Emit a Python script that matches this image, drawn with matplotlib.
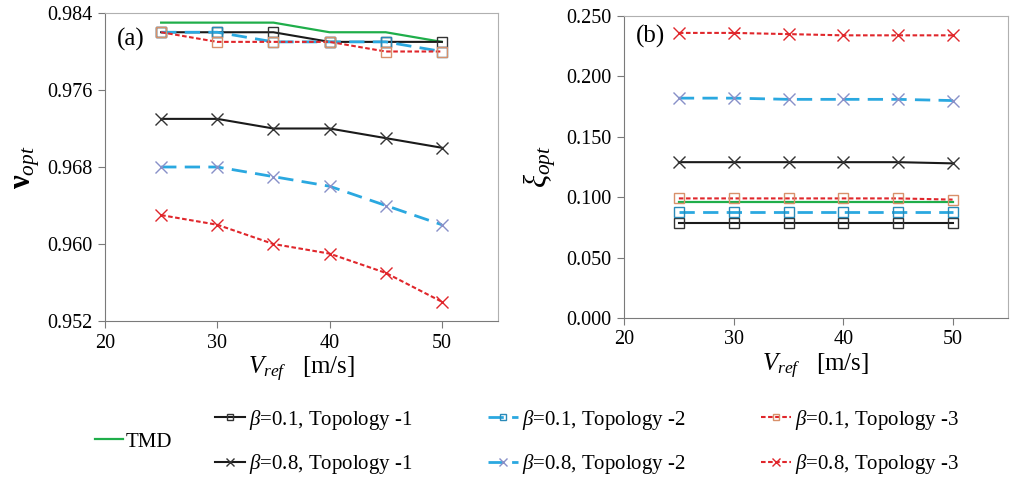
import matplotlib
matplotlib.use("Agg")
import matplotlib.pyplot as plt
from matplotlib.ticker import FixedLocator

plt.rcParams['font.family'] = ['Liberation Serif', 'DejaVu Serif']
plt.rcParams['mathtext.fontset'] = 'custom'
plt.rcParams['mathtext.rm'] = 'Liberation Serif'
plt.rcParams['mathtext.it'] = 'Liberation Serif:italic'
plt.rcParams['mathtext.bf'] = 'Liberation Serif:bold'

# wind speeds
vref = [25, 30, 35, 40, 45, 50]

# panel (a): optimal frequency ratio
nu_tmd = [0.983, 0.983, 0.983, 0.982, 0.982, 0.981]
nu_b01_t1 = [0.982, 0.982, 0.982, 0.981, 0.981, 0.981]
nu_b01_t2 = [0.982, 0.982, 0.981, 0.981, 0.981, 0.980]
nu_b01_t3 = [0.982, 0.981, 0.981, 0.981, 0.980, 0.980]
nu_b08_t1 = [0.973, 0.973, 0.972, 0.972, 0.971, 0.970]
nu_b08_t2 = [0.968, 0.968, 0.967, 0.966, 0.964, 0.962]
nu_b08_t3 = [0.963, 0.962, 0.960, 0.959, 0.957, 0.954]

# panel (b): optimal damping ratio
xi_tmd = [0.096, 0.096, 0.096, 0.096, 0.096, 0.096]
xi_b01_t1 = [0.079, 0.079, 0.079, 0.079, 0.079, 0.079]
xi_b01_t2 = [0.088, 0.088, 0.088, 0.088, 0.088, 0.088]
xi_b01_t3 = [0.099, 0.099, 0.099, 0.099, 0.099, 0.098]
xi_b08_t1 = [0.129, 0.129, 0.129, 0.129, 0.129, 0.128]
xi_b08_t2 = [0.182, 0.182, 0.181, 0.181, 0.181, 0.180]
xi_b08_t3 = [0.236, 0.236, 0.235, 0.234, 0.234, 0.234]

labels = [r'$\beta$=0.1, Topology -1', r'$\beta$=0.8, Topology -1',
          r'$\beta$=0.1, Topology -2', r'$\beta$=0.8, Topology -2',
          r'$\beta$=0.1, Topology -3', r'$\beta$=0.8, Topology -3']

BLACK = '#1a1a1a'
CYAN = '#2aa8e0'
RED = '#e0262b'
GREEN = '#1fae4a'

styles = [
    dict(color=BLACK, ls='-', lw=1.5, marker='s', mec='#333333'),
    dict(color=BLACK, ls='-', lw=1.5, marker='x', mec='#333333'),
    dict(color=CYAN, ls=(0, (5.5, 3)), lw=2.0, marker='s', mec='#2a8ab8'),
    dict(color=CYAN, ls=(0, (5.5, 3)), lw=2.0, marker='x', mec='#8890c8'),
    dict(color=RED, ls=(0, (2.2, 1.2)), lw=1.5, marker='s', mec='#d8906a'),
    dict(color=RED, ls=(0, (2.2, 1.2)), lw=1.5, marker='x', mec=RED),
]

TICKFONT = 14.5

fig = plt.figure(figsize=(10.1, 4.82), dpi=100)
ax1 = fig.add_axes([105 / 1010, 1 - 321 / 482, 393 / 1010, 308 / 482])
ax2 = fig.add_axes([624 / 1010, 1 - 318 / 482, 384 / 1010, 302 / 482])


def draw(ax, tmd, series):
    handles = []
    h_tmd, = ax.plot(vref, tmd, color=GREEN, lw=1.6, label='TMD')
    for ys, st, lab in zip(series, styles, labels):
        ms = 7 if st['marker'] == 's' else 8
        h, = ax.plot(vref, ys, color=st['color'], ls=st['ls'], lw=st['lw'],
                     marker=st['marker'], mfc='none', mec=st['mec'],
                     ms=ms, mew=1.0, label=lab)
        handles.append(h)
    ax.set_xlim(20, 55)
    ax.xaxis.set_major_locator(FixedLocator([20, 30, 40, 50]))
    for side in ['top', 'right']:
        ax.spines[side].set_color('#b0b0b0')
    for side in ['left', 'bottom']:
        ax.spines[side].set_color('#7a7a7a')
    ax.tick_params(direction='out', length=5, color='#7a7a7a',
                   labelsize=TICKFONT, pad=4)
    ax.set_xlabel(r'$V_{ref}$   [m/s]', fontsize=18, labelpad=2)
    return h_tmd, handles


# order in plotting: b01t1, b08t1, b01t2, b08t2, b01t3, b08t3
h_tmd, handles = draw(ax1, nu_tmd, [nu_b01_t1, nu_b08_t1, nu_b01_t2,
                                    nu_b08_t2, nu_b01_t3, nu_b08_t3])
ax1.set_ylim(0.952, 0.984)
ax1.yaxis.set_major_locator(FixedLocator([0.952, 0.960, 0.968, 0.976, 0.984]))
ax1.yaxis.set_major_formatter(lambda v, p: f'{v:.3f}')
ax1.set_ylabel(r'$\mathbf{\nu}_{opt}$', fontsize=22, labelpad=4)
ax1.text(0.03, 0.95, '(a)', transform=ax1.transAxes, fontsize=18,
         va='top', ha='left')

draw(ax2, xi_tmd, [xi_b01_t1, xi_b08_t1, xi_b01_t2,
                   xi_b08_t2, xi_b01_t3, xi_b08_t3])
ax2.set_ylim(0.0, 0.25)
ax2.yaxis.set_major_locator(FixedLocator([0, 0.05, 0.1, 0.15, 0.2, 0.25]))
ax2.yaxis.set_major_formatter(lambda v, p: f'{v:.3f}')
ax2.set_ylabel(r'$\xi_{opt}$', fontsize=22, labelpad=6)
ax2.text(0.03, 0.97, '(b)', transform=ax2.transAxes, fontsize=18,
         va='top', ha='left')

for ax in (ax1, ax2):
    for lab in ax.get_xticklabels() + ax.get_yticklabels():
        lab.set_fontfamily('Liberation Serif')

fig.legend([h_tmd], ['TMD'], loc='center left',
           bbox_to_anchor=(95 / 1010, 1 - 442 / 482), frameon=False,
           fontsize=15, handlelength=1.35, handletextpad=0.1,
           borderpad=0, borderaxespad=0)
fig.legend(handles, labels, loc='center left', ncol=3,
           bbox_to_anchor=(215 / 1010, 1 - 442 / 482), frameon=False,
           fontsize=15, handlelength=1.45, handletextpad=0.2,
           columnspacing=3.6, labelspacing=1.0, markerscale=0.7,
           borderpad=0, borderaxespad=0)

fig.savefig('out.png', dpi=100)
